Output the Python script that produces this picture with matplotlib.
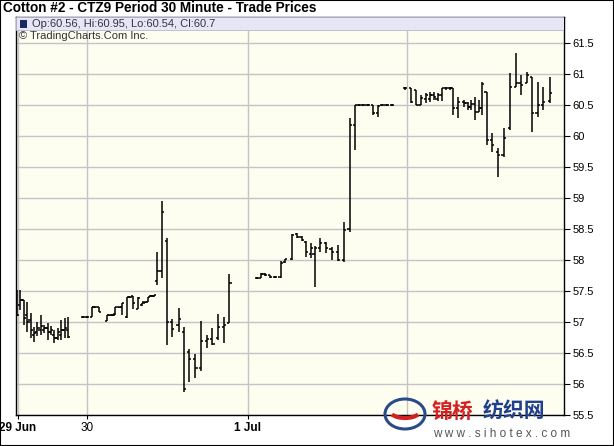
import numpy as np
import matplotlib
matplotlib.use("Agg")
import matplotlib.pyplot as plt
from matplotlib.patches import Rectangle, Ellipse, Arc

# bar time slot (half hour periods on the chart axis) and OHLC prices
t = [0, 1, 2, 3, 4, 5, 6, 7, 8, 9, 10, 11, 12, 13, 14, 15,
     19.4, 20.6, 22.1, 22.9, 24.1, 26.5, 27.4, 28.2, 28.8, 30.0, 30.9, 32.4, 33.2, 34.1,
     35.6, 36.8, 37.6, 38.5, 39.4, 40.3, 41.2, 42.6, 44.1, 45.6, 47.6, 49.1, 50.6, 52.4,
     54.1, 55.9, 57.4, 59.1, 60.9, 62.4,
     70.6, 71.8, 72.9, 74.4, 75.9, 77.6, 78.8, 80.9, 82.4, 83.8, 85.0, 86.5, 87.6, 89.1,
     90.9, 92.6, 94.4, 96.2, 97.9, 99.4, 100.6, 101.8, 103.2, 104.7, 106.2, 107.4, 108.8, 110.3,
     114.1, 115.9, 117.4, 118.8, 120.3, 121.5, 122.6, 123.8, 125.0, 126.2, 127.4, 128.2,
     129.7, 131.5, 132.6, 133.5, 134.7, 135.9, 136.8, 138.2, 139.7, 141.5, 143.2, 145.0,
     146.8, 148.2, 150.0, 151.5, 153.2, 154.7, 156.8]
opens = [57.40, 57.27, 57.35, 57.11, 57.03, 56.79, 56.84, 56.87, 56.87, 56.90, 56.84, 56.79, 56.74, 56.79, 56.87, 56.87,
         57.08, 57.08, 57.08, 57.24, 57.24, 57.02, 57.11, 57.11, 57.13, 57.24, 57.24, 57.08, 57.40, 57.42,
         57.21, 57.27, 57.32, 57.32, 57.42, 57.42, 57.66, 57.82, 58.30, 57.00, 56.95, 56.84, 56.52, 56.40,
         56.26, 56.69, 56.72, 56.75, 56.92, 56.98,
         57.71, 57.71, 57.77, 57.76, 57.73, 57.73, 57.97, 58.02, 58.42, 58.37, 58.29, 58.10, 58.10, 58.20,
         58.27, 58.18, 58.13, 58.00, 58.50, 60.18, 60.50, 60.50, 60.50, 60.50, 60.37, 60.50, 60.50, 60.50,
         60.77, 60.77, 60.74, 60.50, 60.60, 60.60, 60.66, 60.60, 60.66, 60.77, 60.77, 60.77,
         60.45, 60.55, 60.53, 60.47, 60.52, 60.39, 60.45, 60.71, 59.94, 59.75, 59.69, 60.13,
         60.79, 60.85, 60.85, 60.95, 60.37, 60.50, 60.56]
highs = [57.52, 57.52, 57.35, 57.32, 57.15, 56.92, 57.00, 57.11, 56.95, 56.98, 56.94, 56.87, 56.90, 57.03, 57.06, 57.08,
         57.09, 57.10, 57.24, 57.25, 57.24, 57.11, 57.12, 57.12, 57.24, 57.25, 57.31, 57.40, 57.41, 57.42,
         57.40, 57.31, 57.33, 57.40, 57.43, 57.43, 58.13, 58.95, 58.35, 57.05, 57.23, 56.92, 56.56, 56.48,
         57.02, 56.79, 56.90, 57.13, 57.08, 57.77,
         57.73, 57.79, 57.79, 57.76, 57.74, 57.98, 58.02, 58.42, 58.43, 58.38, 58.30, 58.27, 58.22, 58.35,
         58.29, 58.21, 58.24, 58.61, 60.29, 60.50, 60.51, 60.51, 60.51, 60.50, 60.50, 60.51, 60.51, 60.51,
         60.79, 60.77, 60.74, 60.66, 60.69, 60.71, 60.71, 60.69, 60.77, 60.79, 60.79, 60.77,
         60.63, 60.58, 60.55, 60.58, 60.63, 60.58, 60.87, 60.71, 60.05, 59.81, 60.13, 61.02,
         61.34, 60.98, 61.03, 60.95, 60.87, 60.79, 60.95]
lows = [57.10, 57.19, 56.95, 56.84, 56.74, 56.68, 56.77, 56.79, 56.82, 56.71, 56.79, 56.66, 56.71, 56.71, 56.74, 56.74,
        57.06, 57.07, 57.08, 57.23, 57.16, 57.02, 57.10, 57.10, 57.11, 57.23, 57.11, 57.06, 57.39, 57.21,
        57.21, 57.26, 57.31, 57.32, 57.41, 57.40, 57.60, 57.71, 56.63, 56.76, 56.84, 55.87, 56.03, 56.10,
        56.21, 56.58, 56.63, 56.71, 56.66, 56.98,
        57.69, 57.71, 57.74, 57.71, 57.71, 57.71, 57.95, 58.00, 58.36, 58.30, 58.05, 58.03, 57.56, 58.13,
        58.11, 58.00, 57.98, 57.97, 58.45, 59.77, 60.49, 60.49, 60.49, 60.34, 60.30, 60.49, 60.49, 60.49,
        60.75, 60.53, 60.50, 60.50, 60.53, 60.55, 60.58, 60.56, 60.56, 60.75, 60.75, 60.34,
        60.29, 60.47, 60.42, 60.42, 60.26, 60.39, 60.34, 59.85, 59.74, 59.34, 59.66, 60.10,
        60.79, 60.66, 60.85, 60.06, 60.31, 60.42, 60.54]
closes = [57.12, 57.35, 57.06, 57.00, 56.87, 56.82, 56.90, 56.94, 56.90, 56.84, 56.87, 56.74, 56.84, 56.87, 56.90, 56.76,
          57.08, 57.08, 57.24, 57.24, 57.16, 57.11, 57.11, 57.11, 57.24, 57.24, 57.30, 57.40, 57.40, 57.30,
          57.38, 57.31, 57.32, 57.40, 57.42, 57.43, 57.82, 58.77, 57.00, 56.89, 57.05, 55.92, 56.40, 56.26,
          56.69, 56.72, 56.65, 56.92, 56.95, 57.63,
          57.71, 57.77, 57.76, 57.73, 57.73, 57.95, 58.02, 58.40, 58.37, 58.32, 58.13, 58.20, 58.20, 58.27,
          58.20, 58.13, 58.00, 58.48, 60.18, 60.50, 60.50, 60.50, 60.50, 60.37, 60.48, 60.50, 60.50, 60.50,
          60.77, 60.55, 60.50, 60.62, 60.66, 60.66, 60.63, 60.66, 60.77, 60.77, 60.77, 60.45,
          60.55, 60.53, 60.47, 60.52, 60.39, 60.45, 60.84, 59.94, 59.85, 59.69, 59.97, 60.79,
          60.85, 60.82, 60.98, 60.37, 60.50, 60.55, 60.70]

dayTicks = [0.3, 20.6, 67.9, 114.7]
dayLabels = ["29 Jun", "30", "1 Jul", ""]
boldDays = [True, False, True, False]
priceTicks = [55.5, 56, 56.5, 57, 57.5, 58, 58.5, 59, 59.5, 60, 60.5, 61, 61.5]

title = "Cotton #2 - CTZ9 Period 30 Minute - Trade Prices"
W, H = 614, 446


def px(x, y):
    # pixel (from top-left) -> figure fraction
    return x / W, 1 - y / H


def plotBars(ax):
    ax.vlines(t, lows, highs, color="black", lw=1.1)
    ax.hlines(opens, np.array(t) - 0.7, t, color="black", lw=1.1)
    ax.hlines(closes, t, np.array(t) + 0.7, color="black", lw=1.1)


def drawWatermark(fig):
    cx, cy = px(405, 414)
    fig.add_artist(Ellipse((cx, cy), 40 / W, 30 / H, transform=fig.transFigure,
                           fill=False, ec="#2a4a8a", lw=2.2, zorder=20))
    fig.add_artist(Arc((cx, cy + 3 / H), 30 / W, 14 / H, theta1=200, theta2=340,
                       transform=fig.transFigure, color="#d42020", lw=3, zorder=21))
    fig.text(*px(432, 411), "锦桥", color="#d42020", fontsize=15, fontweight="bold",
             family=["Noto Sans CJK SC"], va="center", ha="left", zorder=22)
    fig.text(*px(483, 411), "纺织网", color="#1f3f8f", fontsize=15, fontweight="bold",
             family=["Noto Sans CJK SC"], va="center", ha="left", zorder=22)
    fig.text(*px(433, 434), "w w w . s i h o t e x . c o m", color="#555555", fontsize=8.5,
             va="center", ha="left", zorder=22)


if __name__ == "__main__":
    plt.rcParams["font.family"] = ["Liberation Sans", "DejaVu Sans"]
    fig = plt.figure(figsize=(W / 100, H / 100), dpi=100)
    fig.patch.set_facecolor("white")

    left, top, right, bottom = 16, 17, 564, 415
    ax = fig.add_axes([left / W, 1 - bottom / H, (right - left) / W, (bottom - top) / H])
    ax.set_facecolor("#fdfdf0")

    ax.set_xlim(-0.3, 160.9)
    ax.set_ylim(55.5, 61.5 + 26 / 62)

    ax.set_yticks(priceTicks)
    ax.set_yticklabels(["{:g}".format(p) for p in priceTicks])
    ax.yaxis.tick_right()
    ax.tick_params(axis="y", direction="out", length=4, width=0.8, pad=2, labelsize=8, colors="black")
    ax.set_xticks(dayTicks)
    ax.set_xticklabels(dayLabels)
    ax.tick_params(axis="x", direction="out", length=3, width=0.8, pad=2, labelsize=8.5)
    for lab, b in zip(ax.get_xticklabels(), boldDays):
        if b:
            lab.set_fontweight("bold")

    ax.grid(True, color="#c4c4c4", lw=1.0)
    ax.set_axisbelow(True)
    for s in ax.spines.values():
        s.set_color("black")
        s.set_linewidth(1.0)

    plotBars(ax)

    # info box across the top of the plot
    ax.add_artist(Rectangle((0, 1 - 13 / (bottom - top)), 1, 13 / (bottom - top), transform=ax.transAxes,
                            fc="#e6e6f6", ec="#b8b8d0", lw=0.6, zorder=5))
    ax.add_artist(Rectangle((4 / (right - left), 1 - 10.5 / (bottom - top)), 7 / (right - left),
                            7 / (bottom - top), transform=ax.transAxes, fc="#1c2860", ec="none", zorder=6))
    info = "Op:{:g}, Hi:{:g}, Lo:{:g}, Cl:{:g}".format(opens[-1], highs[-1], lows[-1], closes[-1])
    fig.text(*px(32, 24), info, fontsize=8, color="#333344", va="center", ha="left", zorder=7)
    fig.text(*px(19, 36), "\u00a9 TradingCharts.Com Inc.", fontsize=8, color="#333333",
             va="center", ha="left", zorder=7)

    fig.text(*px(3, 8), title, fontsize=9.8, fontweight="bold", va="center", ha="left")

    drawWatermark(fig)

    fig.add_artist(Rectangle((0, 0), 1, 1, transform=fig.transFigure, fill=False,
                             ec="black", lw=1.5, zorder=30))
    fig.savefig("out.png", dpi=100)
